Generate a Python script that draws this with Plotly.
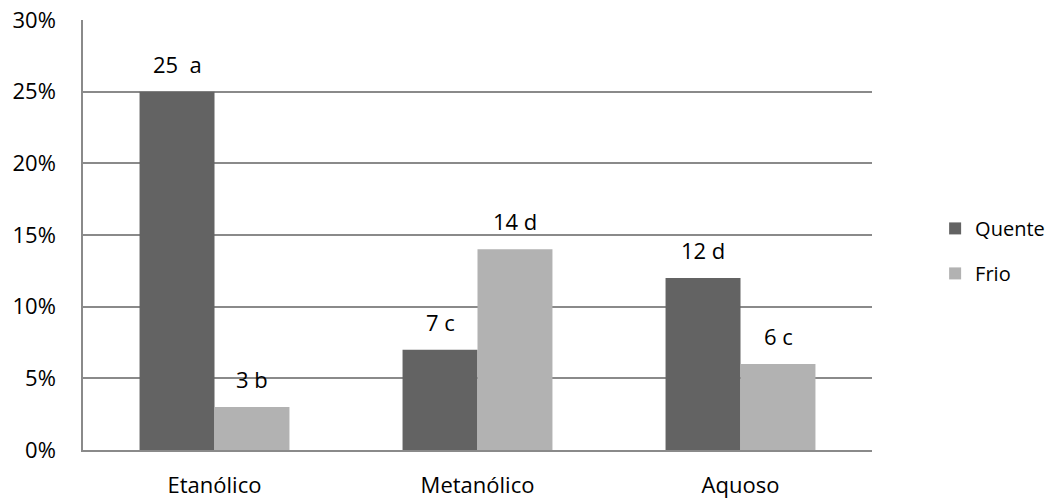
import plotly.graph_objects as go

categories = ["Etanólico", "Metanólico", "Aquoso"]
quente = [0.25, 0.07, 0.12]
frio = [0.03, 0.14, 0.06]
quente_labels = ["25  a", "7 c", "12 d"]
frio_labels = ["3 b", "14 d", "6 c"]
y_ticks = [0, 0.05, 0.10, 0.15, 0.20, 0.25, 0.30]

DARK = "#636363"
LIGHT = "#b2b2b2"
GRID = "#8a8a8a"
FONT = "Open Sans"

fig = go.Figure()
fig.add_trace(go.Bar(x=categories, y=quente, name="Quente", marker=dict(color=DARK, line=dict(width=0)),
                     legendgroup="q"))
fig.add_trace(go.Bar(x=categories, y=frio, name="Frio", marker=dict(color=LIGHT, line=dict(width=0)),
                     legendgroup="f"))

half_px = 37.5
for cat, v, t in zip(categories, quente, quente_labels):
    fig.add_annotation(x=cat, y=v, text=t, showarrow=False, xref="x", yref="y",
                       xshift=-half_px, yshift=11, yanchor="bottom",
                       font=dict(family=FONT, size=22, color="#000"))
for cat, v, t in zip(categories, frio, frio_labels):
    fig.add_annotation(x=cat, y=v, text=t, showarrow=False, xref="x", yref="y",
                       xshift=half_px, yshift=11, yanchor="bottom",
                       font=dict(family=FONT, size=22, color="#000"))

fig.update_layout(
    width=1060, height=500,
    margin=dict(l=83, r=188, t=20, b=50, autoexpand=False),
    paper_bgcolor="white", plot_bgcolor="white",
    barmode="group", bargap=0.43, bargroupgap=0,
    font=dict(family=FONT, size=22, color="#000"),
    showlegend=True,
    legend=dict(x=1.08, xanchor="left", xref="paper", y=0.463, yanchor="middle",
                font=dict(family=FONT, size=20, color="#000"),
                traceorder="grouped", tracegroupgap=16, itemwidth=30),
    xaxis=dict(showgrid=False, showline=True, linecolor=GRID, linewidth=1.5,
               automargin=False,
               ticks="outside", ticklen=15, tickcolor="rgba(0,0,0,0)",
               tickfont=dict(family=FONT, size=22)),
    yaxis=dict(range=[0, 0.30], tickvals=y_ticks, tickformat=".0%",
               automargin=False,
               showgrid=True, gridcolor=GRID, gridwidth=1.5,
               showline=True, linecolor=GRID, linewidth=1.5, zeroline=False,
               ticks="outside", ticklen=21, tickcolor="rgba(0,0,0,0)",
               tickfont=dict(family=FONT, size=22)),
)

fig.write_html("out.html", config={"displayModeBar": False},
               post_script="document.body.style.margin='0';")
